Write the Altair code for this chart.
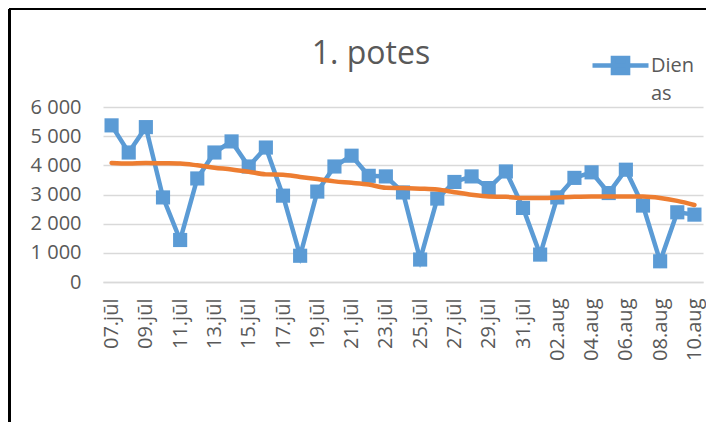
import altair as alt
import pandas as pd

days = ["07.jūl", "08.jūl", "09.jūl", "10.jūl", "11.jūl", "12.jūl", "13.jūl",
        "14.jūl", "15.jūl", "16.jūl", "17.jūl", "18.jūl", "19.jūl", "20.jūl",
        "21.jūl", "22.jūl", "23.jūl", "24.jūl", "25.jūl", "26.jūl", "27.jūl",
        "28.jūl", "29.jūl", "30.jūl", "31.jūl", "01.aug", "02.aug", "03.aug",
        "04.aug", "05.aug", "06.aug", "07.aug", "08.aug", "09.aug", "10.aug"]
values = [5370, 4440, 5310, 2900, 1440, 3550, 4440, 4820, 3960, 4610,
          2960, 900, 3100, 3960, 4330, 3640, 3620, 3070, 770, 2860,
          3430, 3620, 3220, 3790, 2540, 940, 2900, 3570, 3760, 3050,
          3850, 2620, 710, 2390, 2310]
trend = [4080, 4060, 4080, 4070, 4060, 4000, 3920, 3860, 3780, 3690,
         3680, 3600, 3530, 3450, 3400, 3340, 3230, 3220, 3200, 3170,
         3080, 2990, 2930, 2920, 2880, 2880, 2900, 2920, 2930, 2930,
         2935, 2930, 2880, 2780, 2640]
shown_labels = days[::2]
y_ticks = [0, 1000, 2000, 3000, 4000, 5000, 6000]
series_name = "Dienas"

df = pd.DataFrame({"day": days, "value": values, "trend": trend,
                   "series": [series_name] * len(days)})

BLUE = "#5B9BD5"
ORANGE = "#ED7D31"
GREY = "#595959"
FONT = "Open Sans"

x_axis = alt.Axis(values=shown_labels, labelAngle=-90, labelFontSize=20,
                  labelFont=FONT, labelColor=GREY, labelPadding=16,
                  labelOverlap=False, title=None,
                  ticks=False, domain=True, domainColor="#D9D9D9",
                  domainWidth=1.3, grid=False)
y_axis = alt.Axis(values=y_ticks, labelFontSize=20, labelFont=FONT, title=None,
                  labelColor=GREY, labelPadding=22, ticks=False, domain=False,
                  labelOverlap=False, gridColor="#D9D9D9", gridWidth=1.3,
                  labelExpr="replace(format(datum.value, ','), ',', ' ')")
y_scale = alt.Scale(domain=[0, 6000], nice=False)

base = alt.Chart(df)

blue = base.mark_line(strokeWidth=4.5, color=BLUE,
                      point=alt.OverlayMarkDef(shape="square", size=200, filled=True,
                                               color=BLUE, opacity=1)).encode(
    x=alt.X("day:O", sort=days, title=None, axis=x_axis),
    y=alt.Y("value:Q", title=None, scale=y_scale, axis=y_axis),
    color=alt.Color("series:N", scale=alt.Scale(range=[BLUE]),
                    legend=alt.Legend(title=None, orient="none", legendX=487, legendY=-72,
                                      padding=0,
                                      symbolType="M-1,0L1,0M-0.27,-0.27L0.27,-0.27L0.27,0.27L-0.27,0.27Z",
                                      symbolSize=3136, symbolStrokeWidth=4.5,
                                      symbolFillColor=BLUE, symbolStrokeColor=BLUE,
                                      labelExpr="['Dien', 'as']", labelFontSize=20,
                                      labelFont=FONT, labelColor=GREY, labelOffset=0,
                                      labelBaseline="middle")),
)

orange = base.mark_line(strokeWidth=4.5, color=ORANGE, interpolate="monotone",
                        strokeCap="round").encode(
    x=alt.X("day:O", sort=days, title=None, axis=x_axis),
    y=alt.Y("trend:Q", title=None, scale=y_scale, axis=y_axis),
)

border_top = alt.Chart(df).mark_rule(color="black", strokeWidth=1.4).encode(
    x=alt.value(-93.5), x2=alt.value(620), y=alt.value(-98))
border_left = alt.Chart(df).mark_rule(color="black", strokeWidth=1.4).encode(
    x=alt.value(-93.5), y=alt.value(-98), y2=alt.value(340))

chart = alt.layer(blue, orange, border_top, border_left).properties(
    width=600, height=175,
    title=alt.TitleParams("1. potes", fontSize=32, font=FONT, color=GREY,
                          fontWeight="normal", anchor="middle", frame="group",
                          dx=-32, offset=-88, baseline="alphabetic"),
    autosize=alt.AutoSizeParams(type="none"),
    padding={"left": 95, "top": 99, "right": 3, "bottom": 140},
).configure(
    view=alt.ViewConfig(stroke=None),
    style={"guide-label": {"lineHeight": 28}},
)

chart.save("out.html", embed_options={"renderer": "svg", "actions": False})
